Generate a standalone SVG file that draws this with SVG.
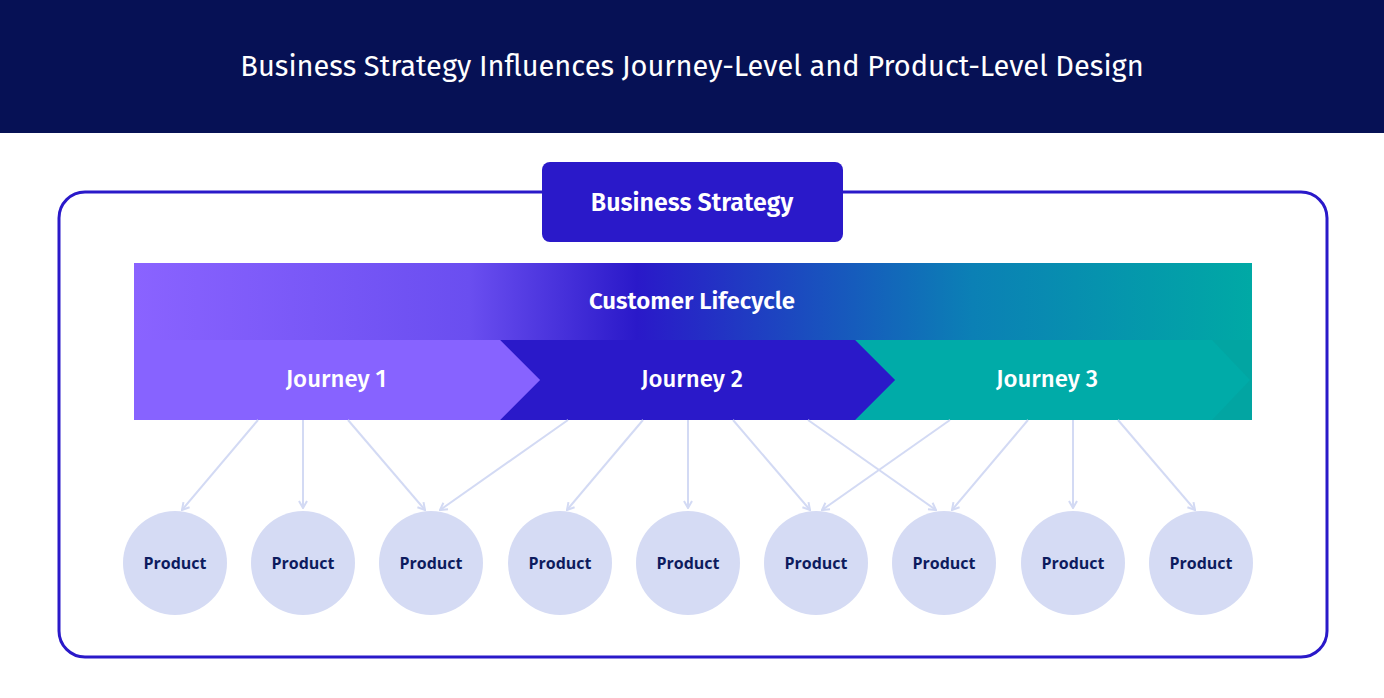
<svg xmlns="http://www.w3.org/2000/svg" width="1384" height="698" viewBox="0 0 1384 698">
<style>
.t{font-family:"Fira Sans","Open Sans","Liberation Sans",sans-serif;fill:#fff;text-anchor:middle}
.p{font-family:"Open Sans","Liberation Sans",sans-serif;font-weight:700;font-size:16px;fill:#0d1b5e;text-anchor:middle}
.c{fill:#d5dbf4}
.a{stroke:#d3daf4;stroke-width:2;fill:none;marker-end:url(#m)}
</style>
<defs>
<linearGradient id="g" x1="0" x2="1" y1="0" y2="0">
<stop offset="0" stop-color="#8a63ff"/><stop offset="0.3" stop-color="#6a4ef0"/><stop offset="0.45" stop-color="#2a19c9"/><stop offset="0.75" stop-color="#0b80b5"/><stop offset="1" stop-color="#00a9a5"/>
</linearGradient>
<marker id="m" viewBox="0 0 10 10" refX="9" refY="5" markerWidth="10" markerHeight="10" markerUnits="userSpaceOnUse" orient="auto">
<polyline points="2,1 9,5 2,9" fill="none" stroke="#d3daf4" stroke-width="2"/>
</marker>
</defs>
<rect x="0" y="0" width="1384" height="133" fill="#061155"/>
<text class="t" x="692" y="76" font-size="29">Business Strategy Influences Journey-Level and Product-Level Design</text>
<rect x="59" y="192" width="1268" height="465" rx="26" fill="none" stroke="#2a19c9" stroke-width="3"/>
<g id="strategy"><rect x="542" y="162" width="301" height="80" rx="8" fill="#2a19c9"/>
<text class="t" x="692" y="211" font-size="25" font-weight="600">Business Strategy</text></g>
<g id="lifecycle"><rect x="134" y="263" width="1118" height="157" fill="url(#g)"/>
<text class="t" x="692" y="309" font-size="24" font-weight="600">Customer Lifecycle</text></g>
<g id="j3"><polygon points="855,340 1252,340 1252,420 855,420 895,380" fill="#00aba8"/>
<polygon points="1212,340 1252,340 1252,420 1212,420 1250,380" fill="#04a19f" opacity="0.6"/>
<text class="t" x="1047" y="387" font-size="24" font-weight="500">Journey 3</text></g>
<g id="j2"><polygon points="500,340 855,340 895,380 855,420 500,420 540,380" fill="#2a19c9"/>
<text class="t" x="692" y="387" font-size="24" font-weight="500">Journey 2</text></g>
<g id="j1"><polygon points="134,340 500,340 540,380 500,420 134,420" fill="#8763ff"/>
<text class="t" x="336" y="387" font-size="24" font-weight="500">Journey 1</text></g>
<g id="connectors">
<line class="a" x1="258" y1="420" x2="182" y2="510"/>
<line class="a" x1="303" y1="420" x2="303" y2="508"/>
<line class="a" x1="348" y1="420" x2="425" y2="510"/>
<line class="a" x1="568" y1="420" x2="440" y2="510"/>
<line class="a" x1="643" y1="420" x2="567" y2="510"/>
<line class="a" x1="688" y1="420" x2="688" y2="508"/>
<line class="a" x1="733" y1="420" x2="810" y2="510"/>
<line class="a" x1="808" y1="420" x2="936" y2="510"/>
<line class="a" x1="950" y1="420" x2="822" y2="510"/>
<line class="a" x1="1028" y1="420" x2="952" y2="510"/>
<line class="a" x1="1073" y1="420" x2="1073" y2="508"/>
<line class="a" x1="1118" y1="420" x2="1195" y2="510"/>
</g>
<g id="p1"><circle class="c" cx="175" cy="563" r="52"/><text class="p" x="175" y="569">Product</text></g>
<g id="p2"><circle class="c" cx="303" cy="563" r="52"/><text class="p" x="303" y="569">Product</text></g>
<g id="p3"><circle class="c" cx="431" cy="563" r="52"/><text class="p" x="431" y="569">Product</text></g>
<g id="p4"><circle class="c" cx="560" cy="563" r="52"/><text class="p" x="560" y="569">Product</text></g>
<g id="p5"><circle class="c" cx="688" cy="563" r="52"/><text class="p" x="688" y="569">Product</text></g>
<g id="p6"><circle class="c" cx="816" cy="563" r="52"/><text class="p" x="816" y="569">Product</text></g>
<g id="p7"><circle class="c" cx="944" cy="563" r="52"/><text class="p" x="944" y="569">Product</text></g>
<g id="p8"><circle class="c" cx="1073" cy="563" r="52"/><text class="p" x="1073" y="569">Product</text></g>
<g id="p9"><circle class="c" cx="1201" cy="563" r="52"/><text class="p" x="1201" y="569">Product</text></g>
</svg>
